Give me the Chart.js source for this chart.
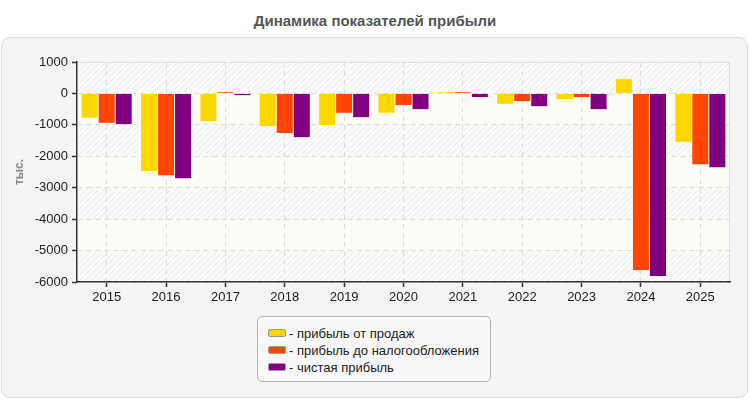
<!DOCTYPE html>
<html>
<head>
<meta charset="utf-8">
<script src="https://cdn.jsdelivr.net/npm/chart.js@4.4.0/dist/chart.umd.min.js"></script>
<style>
    body { margin: 0; background: #fff; font-family: "Liberation Sans", Arial, sans-serif; }
    #wrap { position: relative; width: 750px; height: 400px; overflow: hidden; }
    #title { position: absolute; left: 0; top: 12px; width: 750px; text-align: center;
        font-weight: bold; font-size: 15px; color: #555; }
    #panel { position: absolute; left: 1px; top: 37px; width: 745px; height: 359px;
        background: #f4f4f4; border: 1px solid #dcdcdc; border-radius: 9px; }
    #chart { position: absolute; left: 0; top: 0; }
    #legend { position: absolute; left: 257px; top: 316px; width: 234px; height: 66px;
        background: #f8f8f8; border: 1px solid #b4b4b4; border-radius: 5px;
        font-size: 13px; color: #222; box-sizing: border-box; }
    .item { position: absolute; left: 10px; height: 17px; line-height: 17px; white-space: nowrap; }
    .sw { display: inline-block; width: 16px; height: 6px; border: 1px solid #999;
        border-radius: 2px; margin-right: 3px; vertical-align: 1px; }
</style>
</head>
<body>
<div id="wrap">
    <div id="title">Динамика показателей прибыли</div>
    <div id="panel"></div>
    <canvas id="chart" width="750" height="310"></canvas>
    <div id="legend"></div>
</div>
<script>
var years = ['2015', '2016', '2017', '2018', '2019', '2020', '2021', '2022', '2023', '2024', '2025'];
var salesProfit  = [-775, -2470, -880, -1040, -1005, -615, 40, -330, -180, 455, -1540];
var pretaxProfit = [-935, -2600, 40, -1260, -615, -370, 40, -245, -115, -5620, -2250];
var netProfit    = [-975, -2695, -55, -1390, -755, -500, -115, -405, -500, -5810, -2345];
var seriesNames  = ['- прибыль от продаж', '- прибыль до налогообложения', '- чистая прибыль'];
var seriesColors = ['#ffd700', '#ff4500', '#800080'];
var yMin = -6000, yMax = 1000, yStep = 1000;

// striped background, every other band between y ticks
function makeHatch() {
    var c = document.createElement('canvas');
    c.width = 6; c.height = 6;
    var g = c.getContext('2d');
    g.fillStyle = '#fbfbfb';
    g.fillRect(0, 0, 6, 6);
    g.strokeStyle = '#ebebeb';
    g.lineWidth = 1;
    g.beginPath();
    g.moveTo(0, 6); g.lineTo(6, 0);
    g.moveTo(-1, 1); g.lineTo(1, -1);
    g.moveTo(5, 7); g.lineTo(7, 5);
    g.stroke();
    return g.createPattern(c, 'repeat');
}

var bandsPlugin = {
    id: 'bands',
    beforeDraw: function(chart) {
        var ctx = chart.ctx, a = chart.chartArea, y = chart.scales.y;
        var hatch = makeHatch();
        ctx.save();
        ctx.fillStyle = '#fdfdf7';
        ctx.fillRect(a.left, a.top, a.right - a.left, a.bottom - a.top);
        var ticks = y.ticks.map(function(t) { return t.value; }).sort(function(p, q) { return q - p; });
        for (var i = 0; i < ticks.length - 1; i += 2) {
            var y1 = y.getPixelForValue(ticks[i]);
            var y2 = y.getPixelForValue(ticks[i + 1]);
            ctx.fillStyle = hatch;
            ctx.fillRect(a.left, y1, a.right - a.left, y2 - y1);
        }
        ctx.strokeStyle = '#dddddd';
        ctx.lineWidth = 1;
        ctx.beginPath();
        ctx.moveTo(a.left, a.top + 0.5);
        ctx.lineTo(a.right - 0.5, a.top + 0.5);
        ctx.lineTo(a.right - 0.5, a.bottom);
        ctx.stroke();
        ctx.restore();
    }
};

var datasets = [salesProfit, pretaxProfit, netProfit].map(function(vals, i) {
    return {
        label: seriesNames[i],
        data: vals,
        backgroundColor: seriesColors[i],
        borderWidth: 0,
        categoryPercentage: 0.86,
        barPercentage: 0.94
    };
});

var tickFont = { size: 13, family: "'Liberation Sans', Arial, sans-serif" };

new Chart(document.getElementById('chart').getContext('2d'), {
    type: 'bar',
    data: { labels: years, datasets: datasets },
    options: {
        responsive: false,
        animation: false,
        devicePixelRatio: 1,
        layout: { padding: { top: 62, right: 20, left: 0, bottom: 0 } },
        plugins: {
            legend: { display: false },
            tooltip: { enabled: false }
        },
        scales: {
            x: {
                afterFit: function(s) { s.height = 28; },
                grid: {
                    offset: false,
                    color: '#dddddd',
                    tickColor: '#333',
                    tickLength: 5,
                    tickWidth: 1.5
                },
                border: { display: true, color: '#333', width: 1.5, dash: [5, 4] },
                ticks: { color: '#222', font: tickFont, padding: 3, maxRotation: 0 }
            },
            y: {
                min: yMin,
                max: yMax,
                afterFit: function(s) { s.width = 77; },
                grid: {
                    color: '#dddddd',
                    tickColor: '#333',
                    tickLength: 5,
                    tickWidth: 1.5
                },
                border: { display: true, color: '#333', width: 1.5, dash: [5, 4] },
                ticks: {
                    stepSize: yStep,
                    color: '#222',
                    font: tickFont,
                    padding: 4,
                    callback: function(v) { return String(v); }
                },
                title: {
                    display: true,
                    text: 'тыс.',
                    color: '#888',
                    font: { size: 12, weight: 'bold', family: "'Liberation Sans', Arial, sans-serif" },
                    padding: { top: 12, bottom: 0 }
                }
            }
        }
    },
    plugins: [bandsPlugin]
});

// html legend
var legend = document.getElementById('legend');
seriesNames.forEach(function(name, i) {
    var row = document.createElement('div');
    row.className = 'item';
    row.style.top = (8 + i * 17) + 'px';
    row.innerHTML = '<span class="sw" style="background:' + seriesColors[i] + '"></span>' + name;
    legend.appendChild(row);
});
</script>
</body>
</html>
